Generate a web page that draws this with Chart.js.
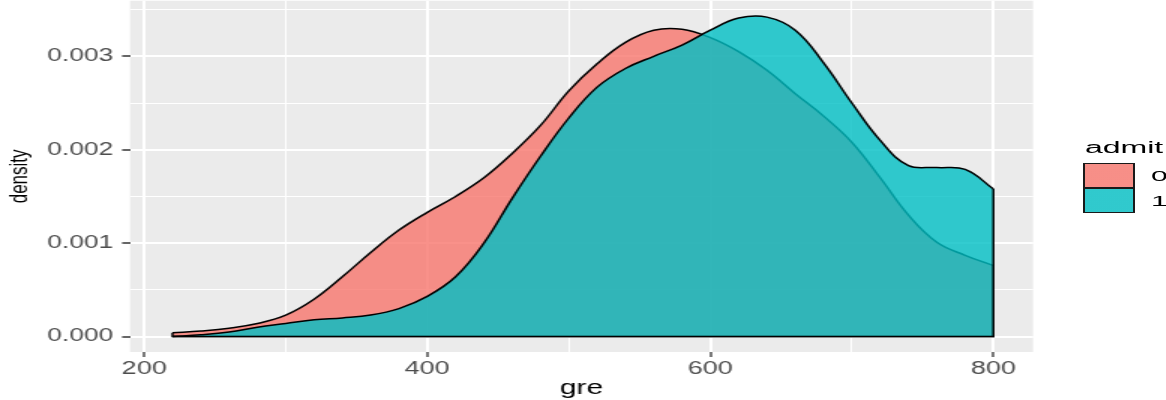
<!DOCTYPE html>
<html lang="en">
<head>
  <meta charset="UTF-8" />
  <title>gre density by admit</title>
  <script src="https://cdn.jsdelivr.net/npm/chart.js@4.4.1/dist/chart.umd.min.js"></script>
  <style>
    html, body {
      margin: 0;
      padding: 0;
      background: #ffffff;
      width: 1166px;
      height: 400px;
      overflow: hidden;
    }
    /* the reference plot is stretched sideways, so the chart is drawn narrow and widened */
    #stretch {
      position: absolute;
      left: 0;
      top: 0;
      width: 800px;
      height: 400px;
      transform: scaleX(1.5);
      transform-origin: 0 0;
    }
    #legend {
      position: absolute;
      left: 1083px;
      top: 0;
      width: 60px;
      height: 400px;
      transform: scaleX(2);
      transform-origin: 0 0;
      font-family: 'Liberation Sans', Arial, sans-serif;
      color: #000;
    }
    .leg-title {
      position: absolute;
      left: 1px;
      top: 140px;
      font-size: 16px;
      line-height: 16px;
    }
    .leg-key {
      position: absolute;
      left: 0;
      width: 26px;
      height: 25px;
      box-sizing: border-box;
      border: 1px solid #1a1a1a;
      border-top-width: 1.5px;
      border-bottom-width: 1.5px;
      background-color: #f2f2f2;
    }
    .leg-label {
      position: absolute;
      left: 34px;
      font-size: 15px;
      line-height: 25px;
    }
  </style>
</head>
<body>

  <div id="stretch"><canvas id="grafica"></canvas></div>
  <div id="legend"></div>

  <script>
    // ---- datos ----
    const groups = ['0', '1'];
    const legendTitle = 'admit';
    const gre = [220, 240, 260, 280, 300, 320, 340, 360, 380, 400,
                 420, 440, 460, 480, 500, 520, 540, 560, 580, 600,
                 620, 640, 660, 680, 700, 720, 740, 760, 780, 800];
    const density0 = [0.00004, 0.00006, 0.00009, 0.00014, 0.00023, 0.00040, 0.00064, 0.00090, 0.00114, 0.00133,
                      0.00150, 0.00170, 0.00196, 0.00226, 0.00263, 0.00292, 0.00315, 0.00328, 0.00329, 0.00320,
                      0.00305, 0.00285, 0.00260, 0.00236, 0.00208, 0.00170, 0.00130, 0.00101, 0.00087, 0.00076];
    const density1 = [0.00000, 0.00002, 0.00005, 0.00010, 0.00014, 0.00018, 0.00020, 0.00023, 0.00030, 0.00043,
                      0.00064, 0.00100, 0.00148, 0.00193, 0.00234, 0.00267, 0.00287, 0.00300, 0.00312, 0.00328,
                      0.00341, 0.00342, 0.00328, 0.00293, 0.00250, 0.00210, 0.00183, 0.00181, 0.00179, 0.00158];
    const xMajorTicks = [200, 400, 600, 800];
    const xMinorTicks = [300, 500, 700];
    const xTickLabels = ['200', '400', '600', '800'];
    const yMajorTicks = [0, 0.001, 0.002, 0.003];
    const yMinorTicks = [0.0005, 0.0015, 0.0025, 0.0035];
    const yTickLabels = ['0.000', '0.001', '0.002', '0.003'];
    const fills = ['rgba(248, 118, 109, 0.8)', 'rgba(0, 191, 196, 0.8)'];

    const FONT = "'Liberation Sans', Arial, sans-serif";

    function puntos(dens) {
      return gre.map((g, i) => ({ x: g, y: dens[i] }));
    }

    // borde del poligono: lados verticales y base
    function bordes(dens) {
      const n = gre.length - 1;
      return [
        { x: gre[0], y: dens[0] },
        { x: gre[0], y: 0 },
        { x: gre[n], y: 0 },
        { x: gre[n], y: dens[n] }
      ];
    }

    function esMayor(v, lista) {
      return lista.some(m => Math.abs(m - v) < 1e-9);
    }

    const curva = (label, dens, color, order) => ({
      label: label,
      data: puntos(dens),
      fill: 'origin',
      backgroundColor: color,
      borderColor: '#000000',
      borderWidth: 1.5,
      tension: 0.4,
      pointRadius: 0,
      order: order
    });

    const borde = (dens, order) => ({
      data: bordes(dens),
      fill: false,
      borderColor: '#000000',
      borderWidth: 1.5,
      tension: 0,
      pointRadius: 0,
      order: order
    });

    const fondoPanel = {
      id: 'fondoPanel',
      beforeDraw(chart) {
        const { ctx, chartArea } = chart;
        ctx.save();
        ctx.fillStyle = '#ebebeb';
        ctx.fillRect(chartArea.left, chartArea.top, chartArea.right - chartArea.left, chartArea.bottom - chartArea.top);
        ctx.restore();
      }
    };

    // sin margen extra por las etiquetas de los extremos
    function sinPadding(s) {
      s.paddingTop = 0;
      s.paddingBottom = 0;
      s.paddingLeft = 0;
      s.paddingRight = 0;
    }

    new Chart(document.getElementById('grafica'), {
      type: 'line',
      data: {
        datasets: [
          curva(groups[0], density0, fills[0], 4),
          borde(density0, 3),
          curva(groups[1], density1, fills[1], 2),
          borde(density1, 1)
        ]
      },
      options: {
        responsive: true,
        maintainAspectRatio: false,
        animation: false,
        events: [],
        layout: { padding: { left: 0, right: 111.3, top: 0, bottom: 0 } },
        plugins: {
          legend: { display: false },
          tooltip: { enabled: false }
        },
        scales: {
          x: {
            type: 'linear',
            min: 190,
            max: 828,
            afterBuildTicks: (s) => {
              s.ticks = [...xMajorTicks, ...xMinorTicks].sort((a, b) => a - b).map(v => ({ value: v }));
            },
            afterFit: (s) => { s.height = 48; sinPadding(s); },
            border: { display: false },
            grid: {
              color: '#ffffff',
              lineWidth: (c) => esMayor(c.tick.value, xMajorTicks) ? 2 : 1,
              tickColor: (c) => esMayor(c.tick.value, xMajorTicks) ? '#333333' : 'rgba(0,0,0,0)',
              tickWidth: 1.3,
              tickLength: 5
            },
            ticks: {
              autoSkip: false,
              maxRotation: 0,
              padding: 1,
              color: '#4d4d4d',
              font: { family: FONT, size: 18 },
              callback: (v) => {
                const i = xMajorTicks.findIndex(m => Math.abs(m - v) < 1e-9);
                return i >= 0 ? xTickLabels[i] : '';
              }
            },
            title: {
              display: true,
              text: 'gre',
              color: '#000000',
              font: { family: FONT, size: 20 },
              padding: { top: 0, bottom: 0 }
            }
          },
          y: {
            min: -0.000165,
            max: 0.003595,
            afterBuildTicks: (s) => {
              s.ticks = [...yMajorTicks, ...yMinorTicks].sort((a, b) => a - b).map(v => ({ value: v }));
            },
            afterFit: (s) => { s.width = 86.7; sinPadding(s); },
            border: { display: false },
            grid: {
              color: '#ffffff',
              lineWidth: (c) => esMayor(c.tick.value, yMajorTicks) ? 2 : 1,
              tickColor: (c) => esMayor(c.tick.value, yMajorTicks) ? '#333333' : 'rgba(0,0,0,0)',
              tickWidth: 1.5,
              tickLength: 5.3
            },
            ticks: {
              autoSkip: false,
              padding: 6,
              color: '#4d4d4d',
              font: { family: FONT, size: 17.5 },
              callback: (v) => {
                const i = yMajorTicks.findIndex(m => Math.abs(m - v) < 1e-9);
                return i >= 0 ? yTickLabels[i] : '';
              }
            },
            title: {
              display: true,
              text: 'density',
              color: '#000000',
              font: { family: FONT, size: 17 },
              padding: { top: 3, bottom: 0 }
            }
          }
        }
      },
      plugins: [fondoPanel]
    });

    // Leyenda
    const leyenda = document.getElementById('legend');
    const titulo = document.createElement('div');
    titulo.className = 'leg-title';
    titulo.textContent = legendTitle;
    leyenda.appendChild(titulo);
    groups.forEach((g, i) => {
      const key = document.createElement('div');
      key.className = 'leg-key';
      key.style.top = (163 + i * 25) + 'px';
      key.style.backgroundImage = 'linear-gradient(' + fills[i] + ', ' + fills[i] + ')';
      leyenda.appendChild(key);
      const lab = document.createElement('div');
      lab.className = 'leg-label';
      lab.style.top = (163 + i * 25) + 'px';
      lab.textContent = g;
      leyenda.appendChild(lab);
    });
  </script>

</body>
</html>
